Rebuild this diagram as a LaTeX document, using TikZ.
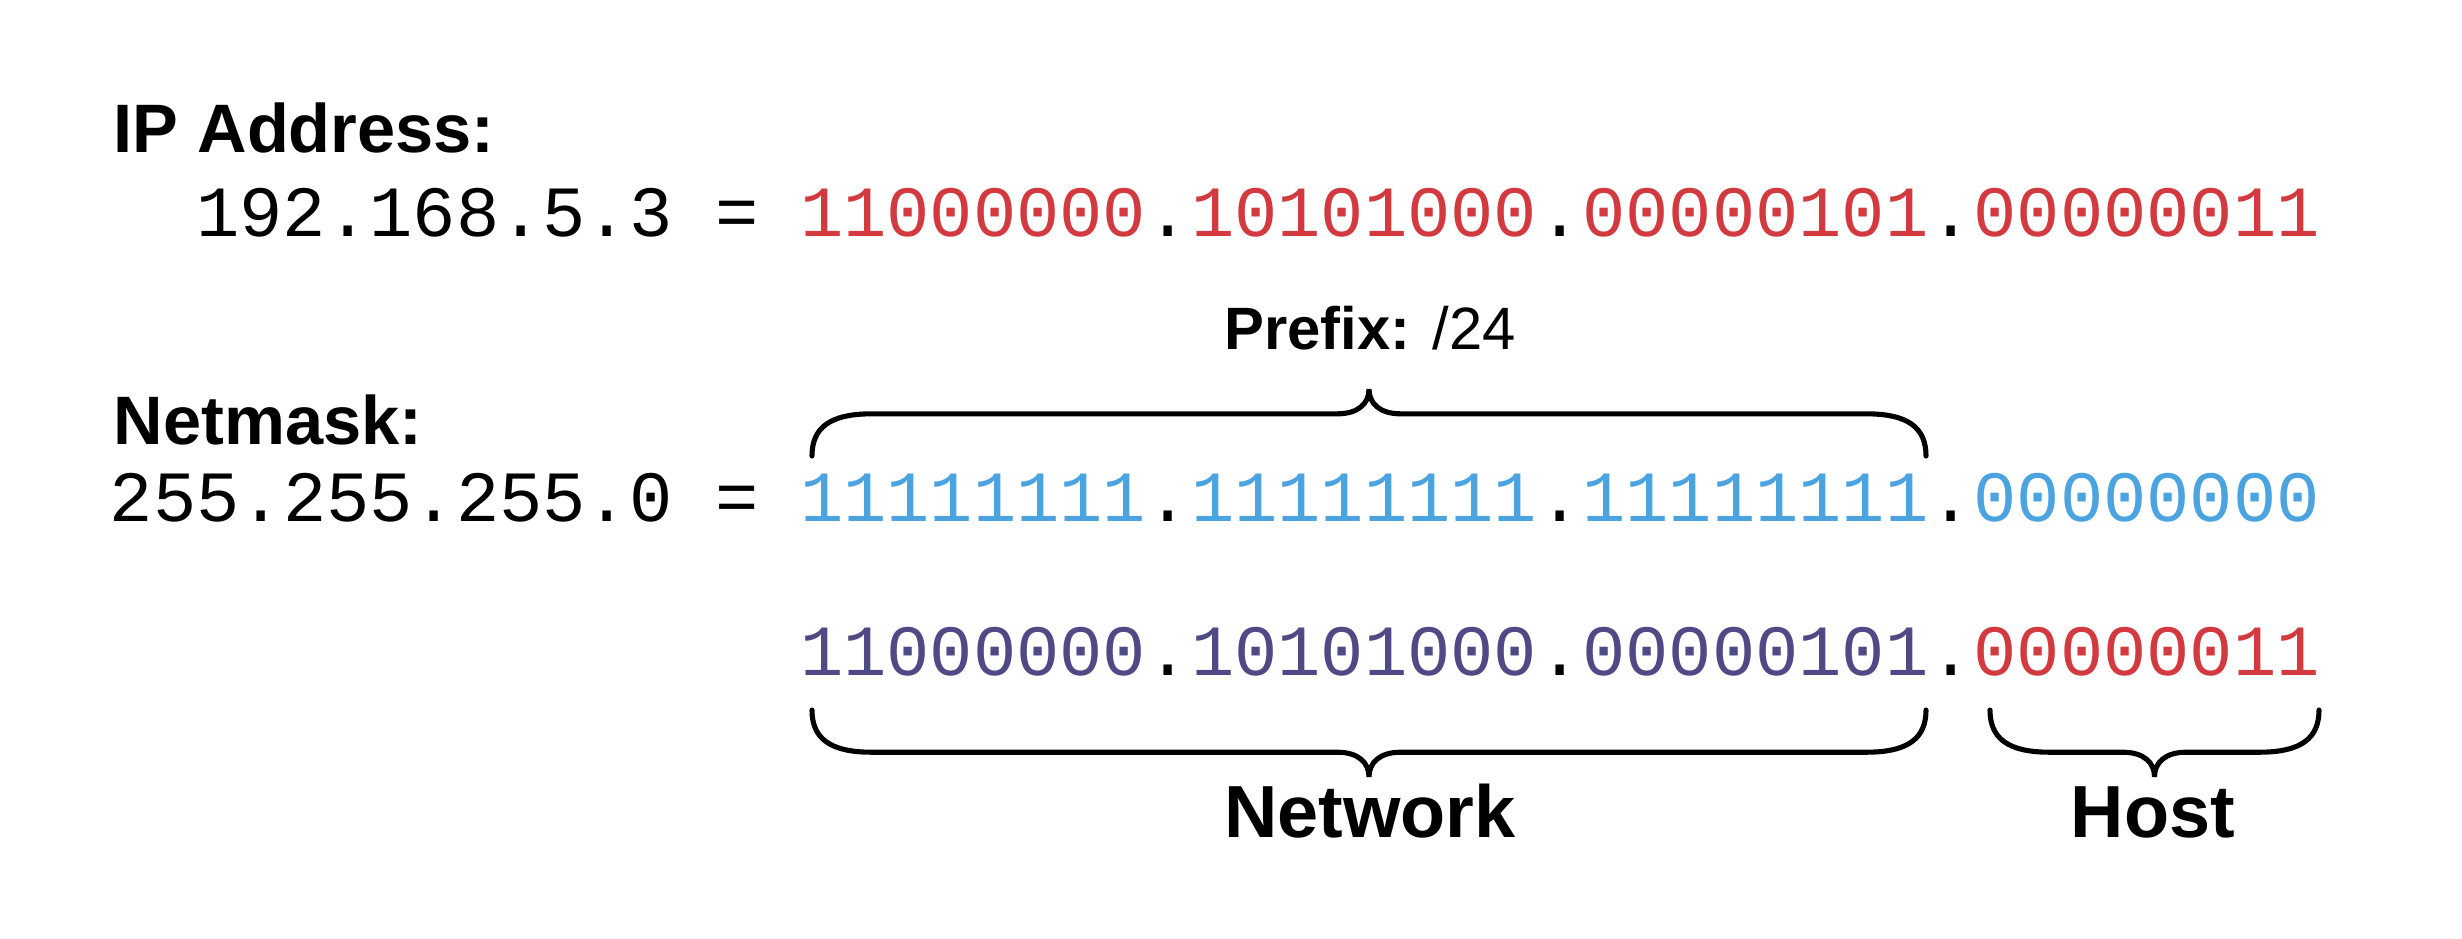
\documentclass[tikz,border=0pt]{standalone}
\usepackage{fontspec}
\setmainfont{Liberation Sans}
\newfontfamily\monofont{Liberation Mono}
\usepackage{xcolor}
\usetikzlibrary{positioning, calc}

\definecolor{ipred}{HTML}{D33A40}
\definecolor{maskblue}{HTML}{4BA3DF}
\definecolor{netpurple}{HTML}{4F4A85}

\tikzset{
  mono/.style={font=\monofont\fontsize{20.5}{24}\selectfont, inner sep=0pt, outer sep=0pt, anchor=base west},
  heading/.style={font=\bfseries\fontsize{19.5}{23}\selectfont, inner sep=0pt, anchor=base west},
  tag/.style={font=\bfseries\fontsize{21}{25}\selectfont, inner sep=0pt, anchor=base},
  % curly brace between two points, #1 = 1 opens upwards, -1 downwards
  curly/.style={line width=1.45pt, line cap=round, to path={
    let \p1=(\tikztostart), \p2=(\tikztotarget), \n1={0.5*(\x1+\x2)} in
    (\p1) .. controls ({\x1},{\y1+(#1)*8pt}) and ({\x1+5pt},{\y1+(#1)*12pt}) .. ({\x1+17pt},{\y1+(#1)*12pt})
    -- ({\n1-9pt},{\y1+(#1)*12pt}) .. controls ({\n1-3pt},{\y1+(#1)*12pt}) and ({\n1},{\y1+(#1)*15pt}) .. ({\n1},{\y1+(#1)*19pt})
    .. controls ({\n1},{\y1+(#1)*15pt}) and ({\n1+3pt},{\y1+(#1)*12pt}) .. ({\n1+9pt},{\y1+(#1)*12pt})
    -- ({\x2-17pt},{\y2+(#1)*12pt}) .. controls ({\x2-5pt},{\y2+(#1)*12pt}) and ({\x2},{\y2+(#1)*8pt}) .. (\p2)
  }},
}

% character advance and octet step (with a hair of air round the dots)
\def\adv{43.24}
\def\octstep{391.2}

\begin{document}
\begin{tikzpicture}[x=0.01cm, y=-0.01cm]
  \useasboundingbox (0,0) rectangle (2462,938);

  % ip address
  \node[heading] (iphead) at (113,152) {IP Address:};
  \node[mono] (ipdec) at (110+2*\adv,236) {192.168.5.3 =};
  \foreach \oct [count=\i from 0] in {11000000,10101000,00000101,00000011}
    \node[mono, text=ipred] (ip\i) at (800+\i*\octstep,236) {\oct};
  \foreach \i in {0,1,2}
    \node[mono] (ipdot\i) at (801+\i*\octstep+8*\adv,236) {.};

  % netmask
  \node[heading] (maskhead) at (113,444) {Netmask:};
  \node[mono] (maskdec) at (110,521) {255.255.255.0 =};
  \foreach \oct [count=\i from 0] in {11111111,11111111,11111111,00000000}
    \node[mono, text=maskblue] (mask\i) at (800+\i*\octstep,521) {\oct};
  \foreach \i in {0,1,2}
    \node[mono] (maskdot\i) at (801+\i*\octstep+8*\adv,521) {.};

  % network and host part
  \foreach \oct/\col [count=\i from 0] in {11000000/netpurple,10101000/netpurple,00000101/netpurple,00000011/ipred}
    \node[mono, text=\col] (res\i) at (800+\i*\octstep,675) {\oct};
  \foreach \i in {0,1,2}
    \node[mono] (resdot\i) at (801+\i*\octstep+8*\adv,675) {.};

  % braces
  \coordinate (pre-l) at (812,456);
  \coordinate (pre-r) at (1926,456);
  \coordinate (net-l) at (812,710);
  \coordinate (net-r) at (1926,710);
  \coordinate (host-l) at (1990,710);
  \coordinate (host-r) at (2319,710);
  \draw[curly=1] (pre-l) to (pre-r);
  \draw[curly=-1] (net-l) to (net-r);
  \draw[curly=-1] (host-l) to (host-r);

  \node[tag, font=\fontsize{17}{20}\selectfont] (prefix) at (1370,349) {\textbf{Prefix:} /24};
  \node[tag] (network) at (1370,837) {Network};
  \node[tag] (host) at (2153,837) {Host};
\end{tikzpicture}
\end{document}
